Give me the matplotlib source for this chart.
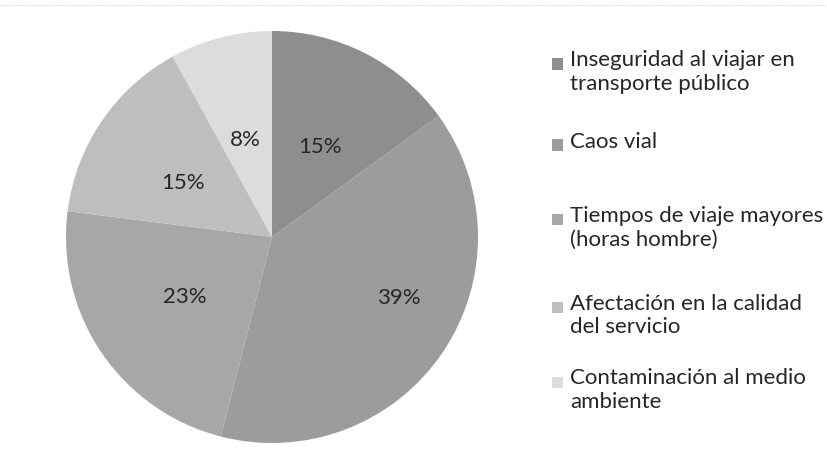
import matplotlib
matplotlib.use("Agg")
import matplotlib.pyplot as plt
from matplotlib.patches import Rectangle
from matplotlib.lines import Line2D

categories = [
    "Inseguridad al viajar en\ntransporte público",
    "Caos vial",
    "Tiempos de viaje mayores\n(horas hombre)",
    "Afectación en la calidad\ndel servicio",
    "Contaminación al medio\nambiente",
]
values = [15, 39, 23, 15, 8]
colors = ["#8e8e8e", "#9c9c9c", "#a7a7a7", "#bebebe", "#dcdcdc"]

plt.rcParams['font.family'] = ['Lato', 'DejaVu Sans']

W, H = 827, 466
fig = plt.figure(figsize=(W / 100, H / 100), dpi=100)
fig.patch.set_facecolor("white")

cx, cy, r = 272, 237, 206
ax = fig.add_axes([(cx - r) / W, (H - cy - r) / H, 2 * r / W, 2 * r / H])
wedges, texts, autotexts = ax.pie(
    values, colors=colors, startangle=90, counterclock=False,
    autopct=lambda p: f"{p:.0f}%", pctdistance=0.5,
    wedgeprops=dict(linewidth=0),
    textprops=dict(fontsize=16, color="#262626"),
)
ax.set_xlim(-1, 1)
ax.set_ylim(-1, 1)
ax.set_aspect("equal")
ax.axis("off")

label_pos = [(0.233, 0.437), (0.617, -0.296), (-0.422, -0.291), (-0.432, 0.262), (-0.131, 0.471)]
for t, (x, y) in zip(autotexts, label_pos):
    t.set_position((x, y))
    t.set_ha("center")
    t.set_va("center")

# legend
leg_y = [64, 145, 220, 307, 382]
line_h = 27
for lab, col, y in zip(categories, colors, leg_y):
    fig.add_artist(Rectangle(((552) / W, (H - y - 5.5) / H), 11 / W, 11 / H,
                             transform=fig.transFigure, facecolor=col, edgecolor="none"))
    fig.text(570 / W, (H - y + 13.5) / H, lab, fontsize=16, color="#262626",
             ha="left", va="top", linespacing=1.2)

fig.add_artist(Line2D([0, 1], [1 - 5 / H, 1 - 5 / H], transform=fig.transFigure,
                      color="#d8d8d8", linewidth=0.8, linestyle=(0, (1, 1))))

fig.savefig("out.png", dpi=100)
